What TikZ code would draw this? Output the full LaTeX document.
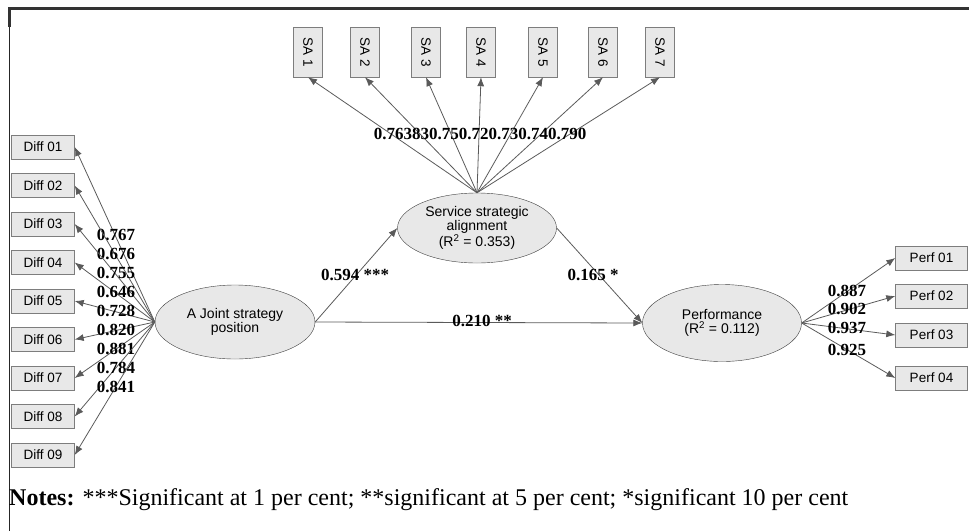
\documentclass[tikz,border=0pt]{standalone}
\usepackage{fontspec}
\setmainfont{Liberation Serif}
\setsansfont{Liberation Sans}
\usepackage{tikz}
\usetikzlibrary{arrows.meta,positioning,shapes.geometric}
\definecolor{boxgray}{RGB}{232,232,232}
\definecolor{edgegray}{RGB}{125,125,125}
\definecolor{linegray}{RGB}{90,90,90}

\begin{document}
\begin{tikzpicture}[x=1pt,y=-1pt,
  item/.style={draw=edgegray,fill=boxgray,font=\sffamily\fontsize{13.5}{15}\selectfont,
    minimum width=63pt,minimum height=24pt,inner sep=0pt},
  saitem/.style={item,minimum width=50pt,minimum height=29pt,rotate=-90},
  construct/.style={ellipse,draw=black!75,fill=boxgray,align=center,inner sep=0pt,
    font=\sffamily\fontsize{14}{14.5}\selectfont},
  link/.style={draw=linegray,line width=0.8pt,-{Latex[length=9pt,width=7pt]}},
  load/.style={font=\bfseries\fontsize{17}{19}\selectfont,inner sep=0pt}]
\useasboundingbox (0,0) rectangle (969,531);
\draw[line width=3pt,black!80] (9,8) -- (969,8);
\draw[line width=1.3pt,black!85] (9.6,7) -- (9.6,531);
\draw[line width=3pt,black!80] (9.6,7) -- (9.6,27);

\node[construct,minimum width=160pt,minimum height=74pt] (joint) at (235,322)
  {A Joint strategy\\position};
\node[construct,minimum width=159pt,minimum height=70pt] (ssa) at (477,228)
  {Service strategic\\alignment\\(R\textsuperscript{2} = 0.353)};
\node[construct,minimum width=159pt,minimum height=77pt] (perf) at (722,323)
  {Performance\\(R\textsuperscript{2} = 0.112)};

\foreach \i/\v [count=\n] in {01/0.767,02/0.676,03/0.755,04/0.646,05/0.728,
    06/0.820,07/0.881,08/0.784,09/0.841}{
  \node[item] (diff\i) at (43,{147+38.5*(\n-1)}) {Diff \i};
  \draw[link] (joint.west) -- (diff\i.east);
  \node[load] (ldiff\i) at (116,{235+19*(\n-1)}) {\v};
}

\foreach \i/\x in {1/308,2/365,3/426,4/481,5/543,6/603,7/660}{
  \node[saitem] (sa\i) at (\x,52) {SA \i};
  \draw[link] (ssa.north) -- (sa\i.east);
}
\node[load] (lsa) at (480,134) {0.763830.750.720.730.740.790};

\foreach \i/\y/\v in {01/258/0.887,02/296/0.902,03/335/0.937,04/378/0.925}{
  \node[item,minimum width=72pt] (perf\i) at (931.5,\y) {Perf \i};
  \draw[link] (perf.east) -- (perf\i.west);
}
\node[load] (lperf01) at (847,291) {0.887};
\node[load] (lperf02) at (847,309) {0.902};
\node[load] (lperf03) at (847,328) {0.937};
\node[load] (lperf04) at (847,350) {0.925};

\draw[link] (joint.east) -- (ssa.west);
\draw[link] (ssa.east) -- (perf.west);
\draw[link] (joint.east) -- (perf.west);
\node[load] (lss) at (355,275) {0.594 ***};
\node[load] (lsp) at (593,275) {0.165 *};
\node[load] (ljp) at (482,321) {0.210 **};

\node[anchor=west,inner sep=0pt,font=\fontsize{24}{26}\selectfont] (notes) at (9,500)
  {\textbf{Notes:} ***Significant at 1 per cent; **significant at 5 per cent; *significant 10 per cent};
\end{tikzpicture}
\end{document}
